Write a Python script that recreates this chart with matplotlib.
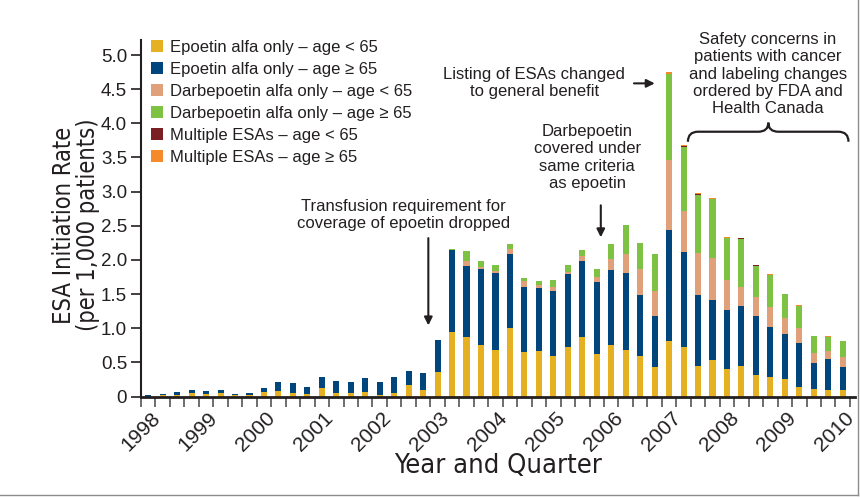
import numpy as np
import matplotlib
matplotlib.use("Agg")
import matplotlib.pyplot as plt
from matplotlib.patches import Patch, PathPatch
from matplotlib.path import Path
from matplotlib.lines import Line2D

plt.rcParams['font.family'] = ['Liberation Sans', 'DejaVu Sans']

# quarters 1998 Q1 .. 2010 Q1
years = list(range(1998, 2011))
n_q = 49

epo_lt65 = [0.0, 0.015, 0.02, 0.05, 0.03, 0.05, 0.015, 0.025, 0.06, 0.08, 0.055, 0.04, 0.125,
            0.05, 0.05, 0.065, 0.02, 0.05, 0.17, 0.10, 0.36, 0.95, 0.875, 0.757, 0.684, 1.007,
            0.654, 0.67, 0.593, 0.73, 0.865, 0.625, 0.757, 0.674, 0.60, 0.438, 0.816, 0.718,
            0.453, 0.537, 0.404, 0.448, 0.316, 0.287, 0.257, 0.14, 0.11, 0.096, 0.096]
epo_ge65 = [0.02, 0.025, 0.05, 0.045, 0.05, 0.045, 0.025, 0.03, 0.065, 0.13, 0.145, 0.10, 0.162,
            0.18, 0.165, 0.205, 0.195, 0.235, 0.205, 0.245, 0.47, 1.19, 1.03, 1.108, 1.131, 1.073,
            0.956, 0.925, 0.957, 1.06, 1.115, 1.05, 1.093, 1.132, 0.89, 0.746, 1.618, 1.397,
            1.037, 0.882, 0.868, 0.883, 0.868, 0.735, 0.662, 0.647, 0.383, 0.455, 0.338]
darb_lt65 = [0.0] * 21 + [0.0, 0.075, 0.03, 0.025, 0.075, 0.075, 0.035, 0.06, 0.04, 0.075, 0.08,
                          0.17, 0.274, 0.37, 0.356, 1.029, 0.598, 0.61, 0.603, 0.441, 0.279, 0.279,
                          0.294, 0.235, 0.22, 0.147, 0.119, 0.147]
darb_ge65 = [0.0] * 21 + [0.02, 0.15, 0.085, 0.08, 0.085, 0.045, 0.055, 0.09, 0.09, 0.085, 0.115,
                          0.21, 0.427, 0.387, 0.54, 1.265, 0.941, 0.853, 0.872, 0.603, 0.69, 0.441,
                          0.47, 0.353, 0.324, 0.25, 0.205, 0.235]
multi_lt65 = [0.0] * 37 + [0.012, 0.012, 0.0, 0.0, 0.015, 0.015, 0.0, 0.0, 0.0, 0.0, 0.0, 0.0]
multi_ge65 = [0.0] * 36 + [0.02, 0.015, 0.012, 0.015, 0.014, 0.0, 0.0, 0.015, 0.0, 0.015, 0.0,
                           0.015, 0.0]

series = [
    ("Epoetin alfa only \u2013 age < 65", epo_lt65, "#E5B022"),
    ("Epoetin alfa only \u2013 age \u2265 65", epo_ge65, "#00457C"),
    ("Darbepoetin alfa only \u2013 age < 65", darb_lt65, "#E0A07A"),
    ("Darbepoetin alfa only \u2013 age \u2265 65", darb_ge65, "#7DC243"),
    ("Multiple ESAs \u2013 age < 65", multi_lt65, "#7A1F22"),
    ("Multiple ESAs \u2013 age \u2265 65", multi_ge65, "#F58A2B"),
]

txt = "#231F20"

fig = plt.figure(figsize=(8.6, 4.98), dpi=100)
ax = fig.add_axes([141 / 860, 1 - 396.5 / 498, (855 - 141) / 860, (396.5 - 40) / 498])

x = np.arange(n_q)
bottom = np.zeros(n_q)
for name, vals, col in series:
    v = np.array(vals)
    ax.bar(x, v, width=0.42, bottom=bottom, color=col, linewidth=0)
    bottom += v

ax.set_xlim(-0.5, 48.85)
ax.set_ylim(0, 5.22)
ax.set_yticks(np.arange(0, 5.01, 0.5))
ax.set_yticklabels(["0"] + ["%.1f" % v for v in np.arange(0.5, 5.01, 0.5)])
ax.set_xticks(np.arange(n_q + 1) - 0.5, minor=True)
ax.set_xticks([])
ax.tick_params(axis='x', which='minor', length=7, width=1.2, color="#555555")
ax.tick_params(axis='y', length=7, width=1.2, color=txt, labelsize=13.5, labelcolor=txt, pad=3)
for y in years:
    ax.text(4 * (y - 1998) + 0.6, -0.27, str(y), rotation=45, ha='right', va='center',
            rotation_mode='anchor', fontsize=15, color=txt)

for s in ['top', 'right']:
    ax.spines[s].set_visible(False)
ax.spines['left'].set_linewidth(1.5)
ax.spines['bottom'].set_linewidth(2)
ax.spines['left'].set_color(txt)
ax.spines['bottom'].set_color(txt)

fig.text(76 / 860, 1 - 225 / 498, "ESA Initiation Rate\n(per 1,000 patients)", rotation=90,
         ha='center', va='center', fontsize=17, family='DejaVu Sans', fontstretch='condensed',
         color=txt, linespacing=1.0)
fig.text(498 / 860, 1 - 466 / 498, "Year and Quarter", ha='center', va='center',
         fontsize=19.5, family='DejaVu Sans', fontstretch='condensed', color=txt)

handles = [Patch(facecolor=c, edgecolor='none', label=n) for n, _, c in series]
fig.legend(handles=handles, loc='upper left', bbox_to_anchor=(151 / 860, 1 - 40 / 498),
           frameon=False, fontsize=12, handlelength=0.7, handleheight=0.7, handletextpad=0.45,
           labelspacing=0.42, borderpad=0, borderaxespad=0, labelcolor=txt)

# annotations
ax.text(17.63, 2.66, "Transfusion requirement for\ncoverage of epoetin dropped", ha='center',
        va='center', fontsize=12, color=txt)
ax.annotate("", xy=(19.36, 1.0), xytext=(19.36, 2.36),
            arrowprops=dict(arrowstyle='-|>', color=txt, lw=1.5, mutation_scale=12))
ax.text(30.34, 3.5, "Darbepoetin\ncovered under\nsame criteria\nas epoetin", ha='center',
        va='center', fontsize=12, color=txt)
ax.annotate("", xy=(31.28, 2.29), xytext=(31.28, 2.84),
            arrowprops=dict(arrowstyle='-|>', color=txt, lw=1.5, mutation_scale=12))
ax.text(26.68, 4.59, "Listing of ESAs changed\nto general benefit", ha='center', va='center',
        fontsize=12, color=txt)
ax.annotate("", xy=(35.2, 4.585), xytext=(33.38, 4.585),
            arrowprops=dict(arrowstyle='-|>', color=txt, lw=1.5, mutation_scale=12))
ax.text(42.84, 4.72, "Safety concerns in\npatients with cancer\nand labeling changes\n"
        "ordered by FDA and\nHealth Canada", ha='center', va='center', fontsize=12, color=txt,
        clip_on=False)

# curly brace
x0, x1, xt = 37.3, 48.4, 42.86
ye, ytop, ytip = 3.73, 3.877, 4.01
r = 0.7
verts = [(x0, ye), (x0, ytop), (x0 + r, ytop), (x0 + r, ytop),
         (xt - r, ytop), (xt, ytop), (xt, ytip),
         (xt, ytop), (xt + r, ytop), (xt + r, ytop),
         (x1 - r, ytop), (x1, ytop), (x1, ye)]
codes = [Path.MOVETO, Path.CURVE3, Path.CURVE3, Path.LINETO,
         Path.LINETO, Path.CURVE3, Path.CURVE3,
         Path.CURVE3, Path.CURVE3, Path.LINETO,
         Path.LINETO, Path.CURVE3, Path.CURVE3]
ax.add_patch(PathPatch(Path(verts, codes), fill=False, edgecolor=txt, lw=1.6, clip_on=False))

# thin frame on right and bottom edges of the panel
fig.add_artist(Line2D([857.5 / 860, 857.5 / 860], [1 - 495 / 498, 1], color="#8C8C8C", lw=1))
fig.add_artist(Line2D([0, 857.5 / 860], [1 - 495 / 498, 1 - 495 / 498], color="#8C8C8C", lw=1))

fig.savefig("out.png", dpi=100)
